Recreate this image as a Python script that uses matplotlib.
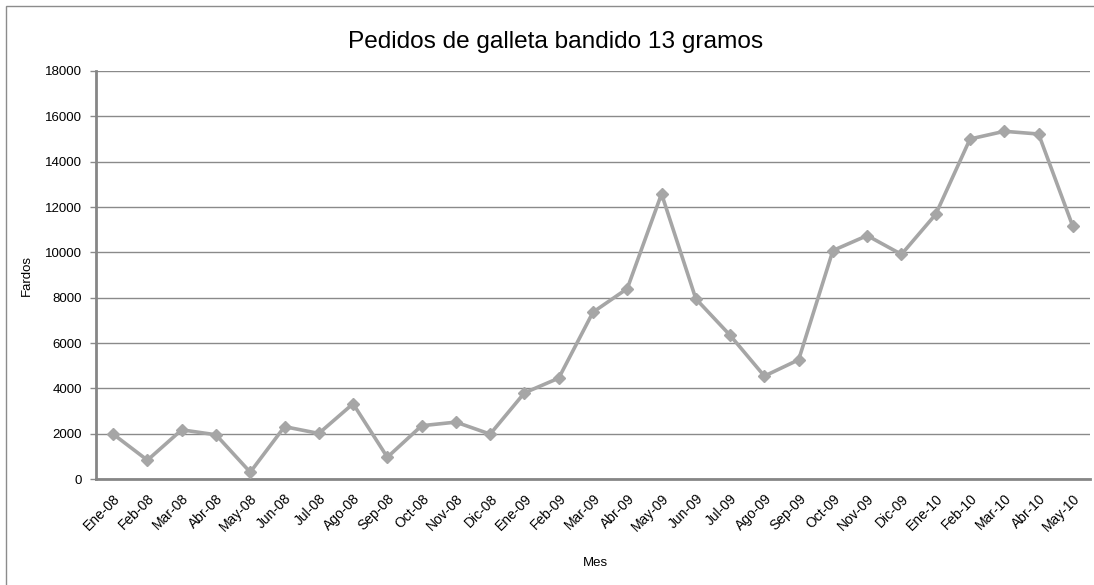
import matplotlib
matplotlib.use("Agg")
import matplotlib.pyplot as plt
from matplotlib.patches import Rectangle

plt.rcParams['font.family'] = ['Liberation Sans', 'DejaVu Sans']

months = ["Ene-08", "Feb-08", "Mar-08", "Abr-08", "May-08", "Jun-08", "Jul-08",
          "Ago-08", "Sep-08", "Oct-08", "Nov-08", "Dic-08", "Ene-09", "Feb-09",
          "Mar-09", "Abr-09", "May-09", "Jun-09", "Jul-09", "Ago-09", "Sep-09",
          "Oct-09", "Nov-09", "Dic-09", "Ene-10", "Feb-10", "Mar-10", "Abr-10",
          "May-10"]
fardos = [1980, 830, 2170, 1950, 300, 2310, 2010, 3320, 960, 2350, 2510, 1980,
          3800, 4450, 7360, 8400, 12580, 7950, 6340, 4540, 5260, 10080, 10740,
          9910, 11680, 15000, 15340, 15220, 11140]
y_ticks = list(range(0, 18001, 2000))

W, H = 1094, 585
fig = plt.figure(figsize=(W / 100, H / 100), dpi=100)
fig.patch.set_facecolor("white")

# chart area border
fig.add_artist(Rectangle((6 / W, -0.1), 1.2, 1 - 6 / H + 0.1,
                         transform=fig.transFigure, fill=False,
                         edgecolor="#8c8c8c", linewidth=1.0))

left, right, top, bottom = 96, 1090, 71, 479
ax = fig.add_axes([left / W, 1 - bottom / H, (right - left) / W, (bottom - top) / H])
x = list(range(len(months)))
ax.plot(x, fardos, color="#a6a6a6", linewidth=2.6, marker="D",
        markersize=6.5, markerfacecolor="#a6a6a6", markeredgecolor="#a6a6a6",
        zorder=3, clip_on=False)

ax.set_ylim(0, 18000)
ax.set_xlim(-0.5, len(months) - 0.5)
ax.set_yticks(y_ticks)
ax.set_yticklabels([str(v) for v in y_ticks], fontsize=9.5)
ax.yaxis.grid(True, color="#8a8a8a", linewidth=1.0)
ax.set_axisbelow(True)
ax.set_xticks(x)
ax.set_xticklabels(months, rotation=45, ha="right", va="top",
                   rotation_mode="anchor", fontsize=10)
ax.tick_params(axis="x", length=0, pad=9)
ax.tick_params(axis="y", length=4, width=1.0, color="#8a8a8a", pad=6)

for side in ("top", "right"):
    ax.spines[side].set_visible(False)
for side in ("left", "bottom"):
    ax.spines[side].set_color("#868686")
    ax.spines[side].set_linewidth(2.0)

ax.set_ylabel("Fardos", fontsize=9.5)
ax.yaxis.set_label_coords(-(left - 33) / (right - left), 0.5)
fig.text(595 / W, 1 - 563 / H, "Mes", ha="center", va="center", fontsize=9.5)
fig.text(556 / W, 1 - 42 / H, "Pedidos de galleta bandido 13 gramos",
         ha="center", va="center", fontsize=17.6)

fig.savefig("out.png", dpi=100, facecolor="white")
